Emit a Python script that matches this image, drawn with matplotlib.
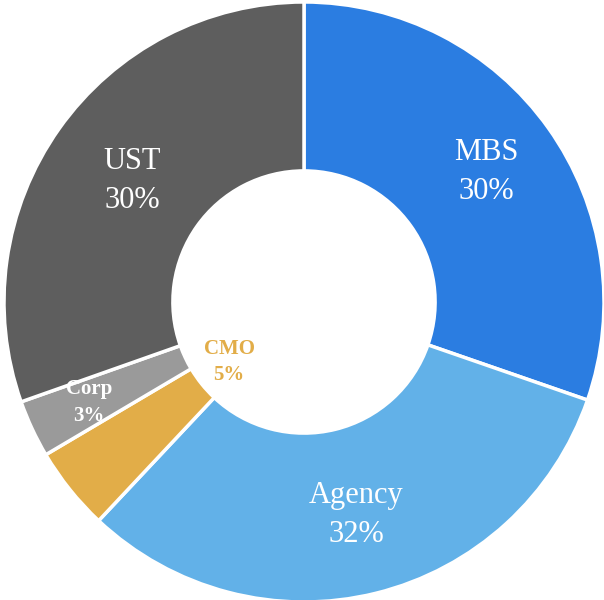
import numpy as np
import matplotlib.pyplot as plt

plt.rcParams['font.family'] = ['Liberation Serif', 'DejaVu Serif']

# 数据
labels = ['MBS', 'Agency', 'CMO', 'Corp', 'UST']
values = [30.3, 31.7, 4.5, 3.1, 30.4]
pct_text = ['30%', '32%', '5%', '3%', '30%']
colors = ['#2B7DE1', '#62B1E8', '#E2AD48', '#9A9A9A', '#5E5E5E']

fig = plt.figure(figsize=(6.04, 6.0), dpi=100)
ax = fig.add_axes([0, 0, 1, 1])

ax.pie(values, colors=colors, startangle=90, counterclock=False, radius=1.0,
       wedgeprops=dict(width=0.563, edgecolor='white', linewidth=2.5))

# 标签位置 (半径, 颜色, 字号, 粗细)
label_r = [0.745, 0.73, 0.32, 0.79, 0.70]
label_color = ['white', 'white', '#E2AD48', 'white', 'white']
label_size = [22, 22, 15, 15, 22]
label_weight = ['normal', 'normal', 'bold', 'bold', 'normal']

total = sum(values)
start = 90
for lab, v, p, r, c, s, w in zip(labels, values, pct_text, label_r,
                                  label_color, label_size, label_weight):
    mid = start - v / total * 360 / 2
    start -= v / total * 360
    x = r * np.cos(np.radians(mid))
    y = r * np.sin(np.radians(mid))
    ax.text(x, y, f'{lab}\n{p}', ha='center', va='center', color=c,
            fontsize=s, fontweight=w, linespacing=1.45)

ax.set_xlim(-304 / 300, 300 / 300)
ax.set_ylim(-298 / 300, 302 / 300)
ax.set_aspect('equal')
ax.axis('off')

plt.savefig('out.png', dpi=100)
